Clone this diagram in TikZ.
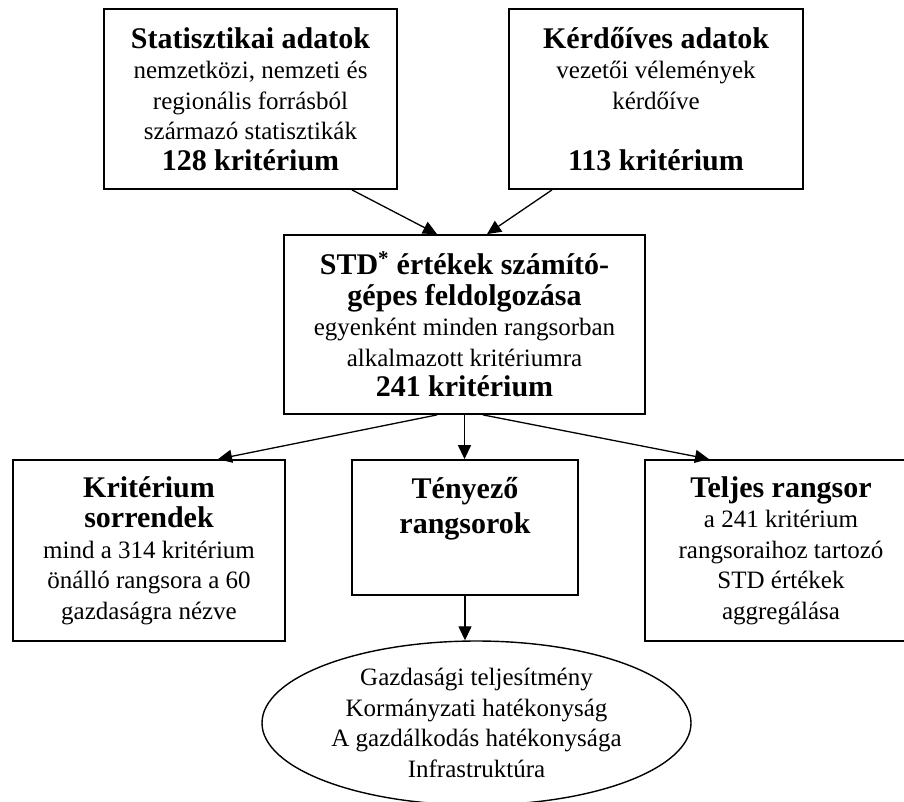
\documentclass[tikz,border=0pt]{standalone}
\usepackage{fontspec}
\setmainfont{Liberation Serif}
\usetikzlibrary{shapes.geometric,arrows.meta}
\newcommand\hdf{\fontsize{30}{35}\selectfont\bfseries}
\newcommand\nmf{\fontsize{25}{30.5}\selectfont\mdseries}
\tikzset{
  box/.style={draw, line width=1.8pt, inner sep=0pt, align=center, font=\nmf},
  arr/.style={line width=1.3pt, -{Triangle[length=14pt,width=13pt]}},
  txt/.style={inner sep=0pt, align=center}
}
\begin{document}
\begin{tikzpicture}[x=1pt,y=-1pt]
\clip (0,0) rectangle (904,801);
\fill[white] (0,0) rectangle (904,801);
\node[box, minimum width=293pt, minimum height=180pt] (b1) at (250.5,99)
  {\hdf Statisztikai adatok\\ nemzetközi, nemzeti és\\ regionális forrásból\\ származó statisztikák\\ \hdf 128 kritérium};
\node[box, minimum width=294pt, minimum height=180pt] (b2) at (656,99)
  {\hdf Kérdőíves adatok\\ vezetői vélemények\\ kérdőíve\\ ~\\ \hdf 113 kritérium};
\node[box, minimum width=361pt, minimum height=179pt] (b3) at (464.5,324.5)
  {\hdf STD\textsuperscript{*} értékek számító-\\ \hdf gépes feldolgozása\\ egyenként minden rangsorban\\ alkalmazott kritériumra\\ \hdf 241 kritérium};
\node[box, minimum width=272pt, minimum height=181pt] (bL) at (149,550.5)
  {\hdf Kritérium\\ \hdf sorrendek\\ mind a 314 kritérium\\ önálló rangsora a 60\\ gazdaságra nézve};
\node[box, minimum width=226pt, minimum height=135pt] (bM) at (465,527.5) {};
\node[txt, font=\hdf, anchor=north] (tM) at ([yshift=-18pt]bM.north) {Tényező\\ rangsorok};
\node[box, minimum width=272pt, minimum height=181pt] (bR) at (781,550.5)
  {\hdf Teljes rangsor\\ a 241 kritérium\\ rangsoraihoz tartozó\\ STD értékek\\ aggregálása};
\node[ellipse, draw, line width=1.4pt, minimum width=429pt, minimum height=164pt, inner sep=0pt, align=center, font=\nmf] (el) at (476.5,723)
  {Gazdasági teljesítmény\\ Kormányzati hatékonyság\\ A gazdálkodás hatékonysága\\ Infrastruktúra};
\draw[arr] ([xshift=101.5pt]b1.south) -- ([xshift=-27.5pt]b3.north);
\draw[arr] ([xshift=-104pt]b2.south) -- ([xshift=22.5pt]b3.north);
\draw[arr] ([xshift=-27.5pt]b3.south) -- ([xshift=69pt]bL.north);
\draw[arr] (b3.south) -- (b3.south |- bM.north);
\draw[arr] ([xshift=18.5pt]b3.south) -- ([xshift=-72pt]bR.north);
\draw[arr] (bM.south) -- (bM.south |- el.north);
\end{tikzpicture}
\end{document}
